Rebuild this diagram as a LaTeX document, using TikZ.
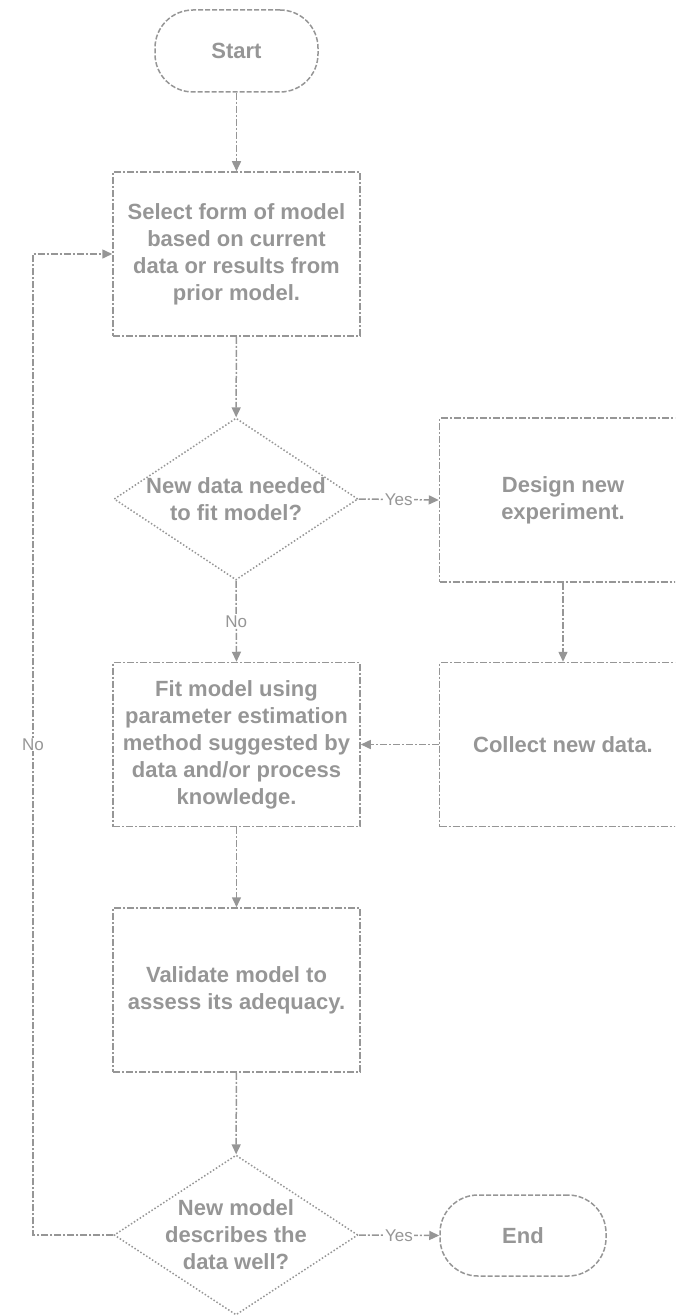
\documentclass[tikz,border=0pt]{standalone}
\usepackage{fontspec}
\setmainfont{Liberation Sans}
\usetikzlibrary{shapes.geometric,arrows.meta}
\definecolor{lg}{RGB}{150,150,150}
\tikzset{
  x=1pt,y=-1pt,
  every node/.style={text=lg},
  boxdash/.style={dash pattern=on 7pt off 2pt on 2pt off 2pt},
  procbox/.style={draw=lg,line width=1.5pt,boxdash,rectangle,minimum width=247pt,minimum height=164pt,inner sep=0pt},
  termbox/.style={draw=lg,line width=1.5pt,dash pattern=on 5pt off 2pt,rectangle,rounded corners=38pt,inner sep=0pt},
  decbox/.style={draw=lg,line width=1.5pt,dash pattern=on 1.5pt off 2pt,diamond,minimum width=244pt,minimum height=162pt,inner sep=0pt},
  btxt/.style={font=\fontsize{22}{27}\selectfont\bfseries,align=center,inner sep=0pt},
  lbl/.style={font=\fontsize{17}{18}\selectfont,fill=white,inner sep=1pt},
  conn/.style={draw=lg,line width=1.5pt,boxdash,-{Triangle[length=10pt,width=9pt]}},
}
\begin{document}
\begin{tikzpicture}
\useasboundingbox (0,0) rectangle (675,1316);
\clip (0,0) rectangle (675,1316);
\node[termbox,minimum width=163pt,minimum height=82pt] (start) at (236.5,51) {};
\node[btxt] at (start) {Start};
\node[procbox] (select) at (236.5,254) {};
\node[btxt] at (select) {Select form of model\\based on current\\data or results from\\prior model.};
\node[decbox] (d1) at (236,499) {};
\node[btxt] at (d1) {New data needed\\to fit model?};
\node[procbox] (design) at (563,500) {};
\node[btxt] at (design) {Design new\\experiment.};
\node[procbox] (collect) at (563,744.5) {};
\node[btxt] at (collect) {Collect new data.};
\node[procbox] (fit) at (236.5,744.5) {};
\node[btxt] at (fit) {Fit model using\\parameter estimation\\method suggested by\\data and/or process\\knowledge.};
\node[procbox] (validate) at (236.5,990) {};
\node[btxt] at (validate) {Validate model to\\assess its adequacy.};
\node[decbox,minimum height=160pt] (d2) at (236,1235) {};
\node[btxt] at (d2) {New model\\describes the\\data well?};
\node[termbox,minimum width=166pt,minimum height=81pt] (end) at (523,1235.5) {};
\node[btxt] at (end) {End};
\coordinate (lb) at (33,1235);
\coordinate (lt) at (33,254);
\draw[conn] (start) -- (select);
\draw[conn] (select) -- (d1);
\draw[conn] (d1.east) -- node[lbl]{Yes} (design.west);
\draw[conn] (d1.south) -- node[lbl]{No} (fit.north);
\draw[conn] (design) -- (collect);
\draw[conn] (collect) -- (fit);
\draw[conn] (fit) -- (validate);
\draw[conn] (validate) -- (d2);
\draw[conn] (d2.east) -- node[lbl]{Yes} (end.west);
\draw[conn] (d2.west) -- (lb) -- node[lbl,pos=0.5]{No} (lt) -- (select.west);
\end{tikzpicture}
\end{document}
